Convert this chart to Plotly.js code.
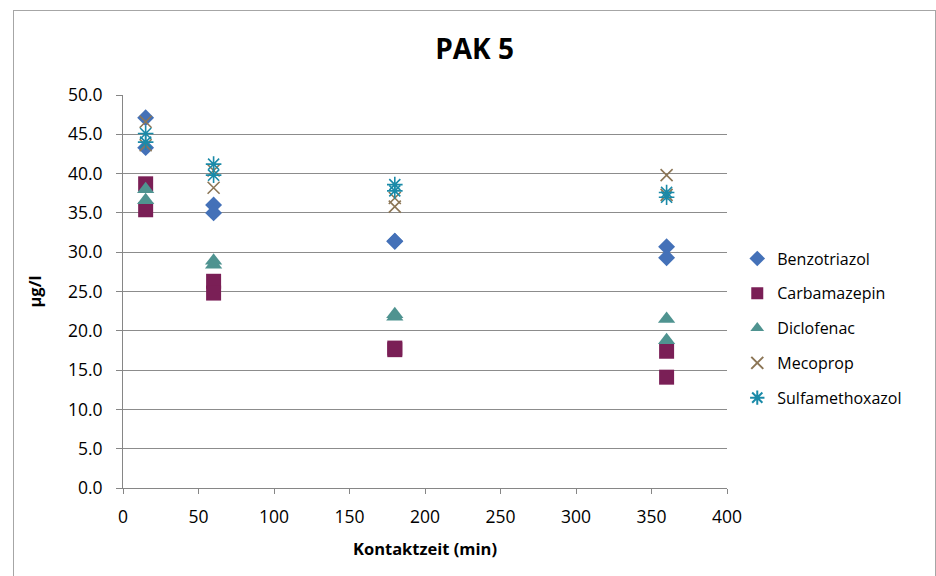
<!DOCTYPE html>
<html>
<head>
<meta charset="utf-8">
<script src="https://cdn.plot.ly/plotly-3.0.1.min.js"></script>
<style>
  body { margin: 0; padding: 0; background: #fff; }
  #chart { width: 936px; height: 576px; }
  #frame { position: absolute; left: 13px; top: 10px; width: 921px; height: 600px;
           border: 1px solid #a6a6a6; pointer-events: none; }
</style>
</head>
<body>
<div id="chart"></div>
<div id="frame"></div>
<script>
const xTimes = [15, 15, 60, 60, 180, 180, 360, 360];
const benzotriazol    = [47.1, 43.3, 36.0, 35.0, 31.4, 31.4, 30.7, 29.3];
const carbamazepin    = [38.7, 35.4, 26.3, 24.8, 17.8, 17.6, 17.4, 14.1];
const diclofenac      = [38.0, 36.6, 28.9, 28.4, 22.1, 21.8, 21.5, 18.8];
const mecoprop        = [46.6, 43.6, 40.4, 38.2, 36.9, 35.8, 39.8, 37.3];
const sulfamethoxazol = [45.1, 44.0, 41.2, 39.8, 38.6, 37.8, 37.6, 37.0];

const seriesNames = ['Benzotriazol', 'Carbamazepin', 'Diclofenac', 'Mecoprop', 'Sulfamethoxazol'];
const seriesValues = [benzotriazol, carbamazepin, diclofenac, mecoprop, sulfamethoxazol];
const yTickVals = [0, 5, 10, 15, 20, 25, 30, 35, 40, 45, 50];
const yTickText = ['0.0', '5.0', '10.0', '15.0', '20.0', '25.0', '30.0', '35.0', '40.0', '45.0', '50.0'];

const styles = [
  {symbol: 'diamond', color: '#4471b8', size: 13, line: {width: 0}},
  {symbol: 'square', color: '#7a1f56', size: 15, line: {width: 0}},
  {symbol: 'triangle-up', color: '#4f9390', size: 15, line: {width: 0}},
  {symbol: 'x-thin-open', color: '#8c7656', size: 12, line: {width: 1.6, color: '#8c7656'}},
  {symbol: 'asterisk-open', color: '#1a8aa8', size: 13, line: {width: 1.6, color: '#1a8aa8'}}
];

const traces = seriesNames.map((n, i) => ({
  type: 'scatter', mode: 'markers', name: n,
  x: xTimes, y: seriesValues[i],
  legendgroup: 'g' + i,
  marker: {symbol: styles[i].symbol, color: styles[i].color, size: styles[i].size, line: styles[i].line}
}));

const font = 'Open Sans, Liberation Sans, sans-serif';
const layout = {
  width: 936, height: 576,
  margin: {l: 123, r: 209, t: 95, b: 88},
  paper_bgcolor: '#fff', plot_bgcolor: '#fff',
  font: {family: font, size: 16, color: '#000'},
  title: {text: '<b>PAK 5</b>', font: {family: font, size: 28, color: '#000'}, x: 0.507, xanchor: 'center', y: 0.915, yanchor: 'middle'},
  xaxis: {
    range: [0, 400], tickvals: [0, 50, 100, 150, 200, 250, 300, 350, 400],
    showgrid: false, zeroline: false, showline: true, linecolor: '#868686', linewidth: 1,
    ticks: 'outside', ticklen: 5, tickcolor: '#868686', tickfont: {size: 17.5},
    ticklabelstandoff: 8,
    title: {text: '<b>Kontaktzeit (min)</b>', font: {size: 16.5}, standoff: 16}
  },
  yaxis: {
    range: [0, 50], tickvals: yTickVals, ticktext: yTickText,
    showgrid: true, gridcolor: '#8c8c8c', gridwidth: 1, zeroline: false,
    showline: true, linecolor: '#868686', linewidth: 1,
    ticks: 'outside', ticklen: 6, tickcolor: '#868686', tickfont: {size: 17.5},
    ticklabelstandoff: 10,
    title: {text: '<b>µg/l</b>', font: {size: 16.5}, standoff: 22}
  },
  legend: {x: 1.017, xanchor: 'left', y: 0.407, yanchor: 'middle', font: {size: 16},
           tracegroupgap: 11, traceorder: 'grouped', bgcolor: 'rgba(0,0,0,0)', itemwidth: 30,
           itemsizing: 'constant'},
  showlegend: true
};

Plotly.newPlot('chart', traces, layout, {displayModeBar: false, staticPlot: true});
</script>
</body>
</html>
